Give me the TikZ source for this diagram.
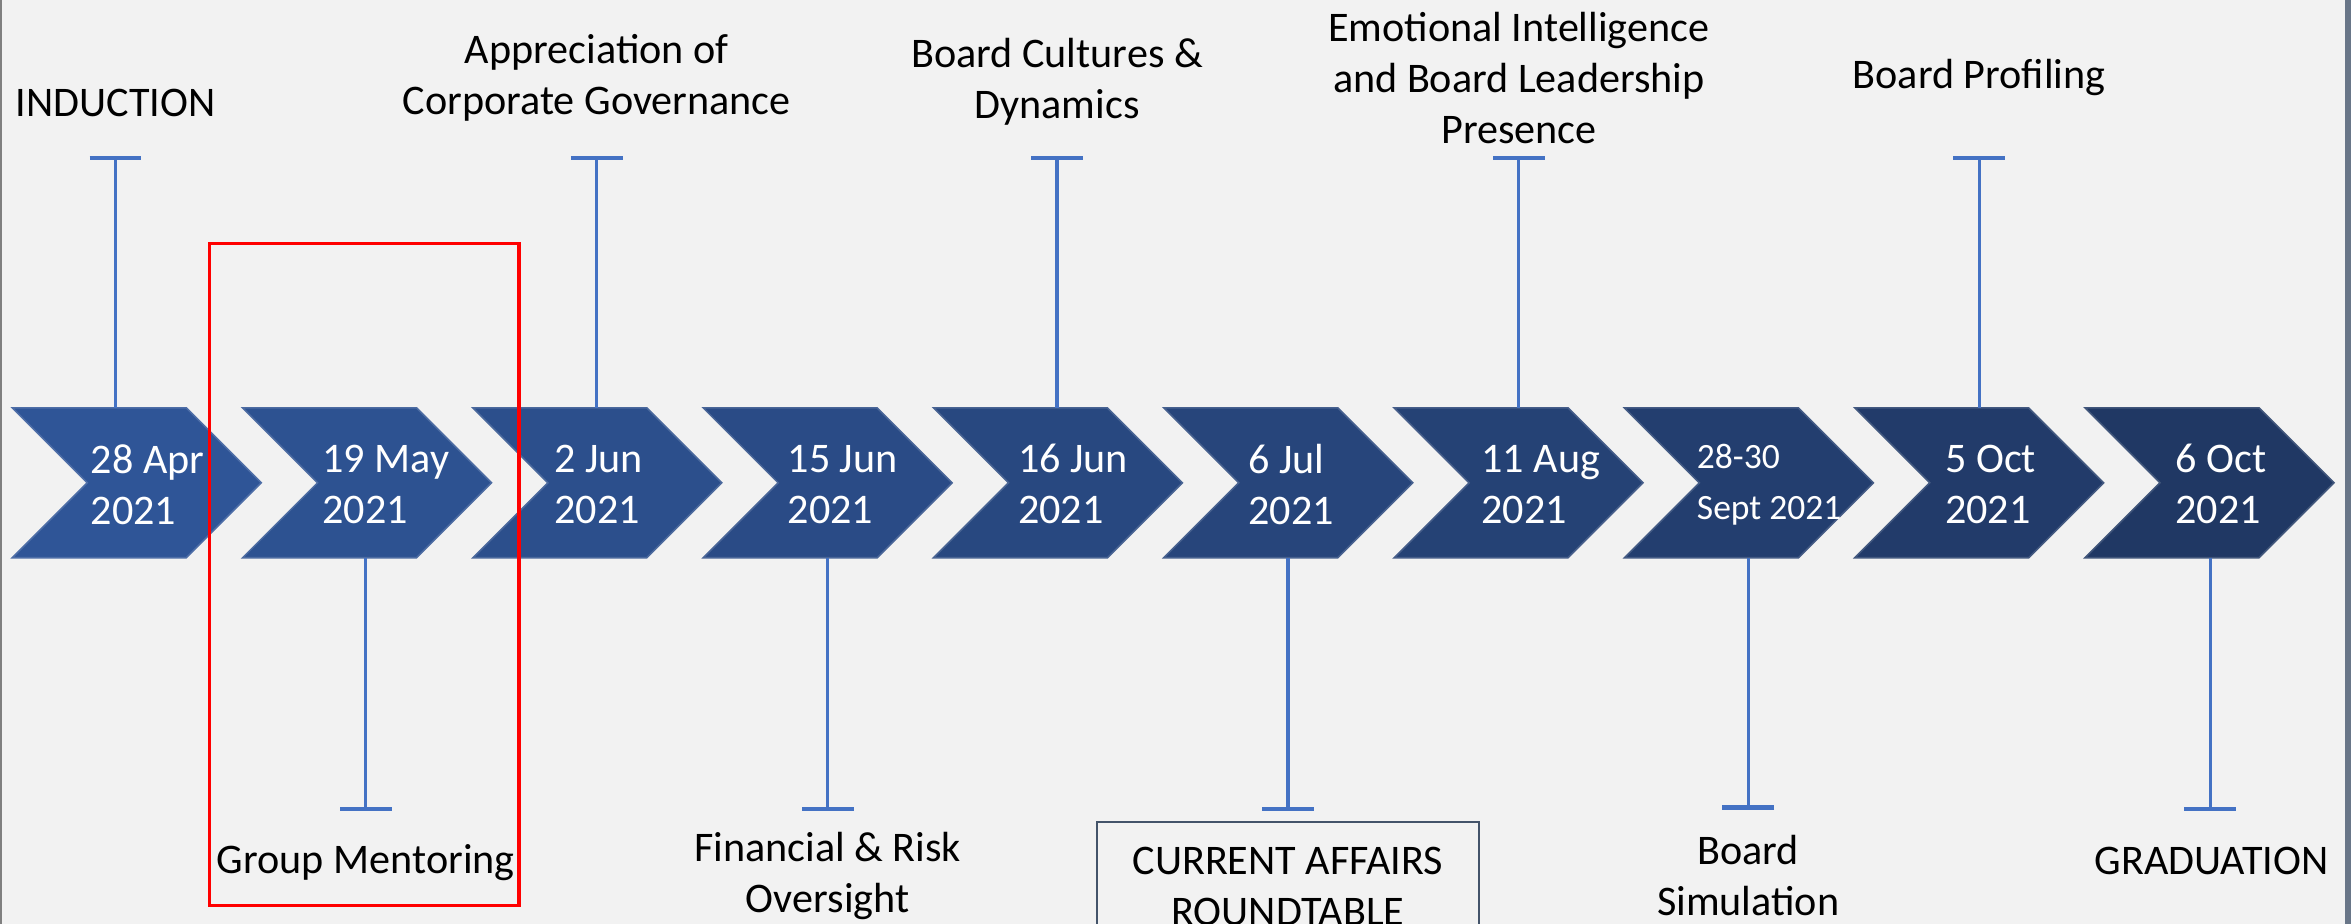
\documentclass[tikz,border=0pt]{standalone}
\usepackage{fontspec}
\setmainfont{Carlito}
\usetikzlibrary{arrows.meta}
\definecolor{slidebg}{HTML}{F2F2F2}
\definecolor{chevfirst}{HTML}{2F5597}
\definecolor{chevlast}{HTML}{203864}
\definecolor{stemblue}{HTML}{4472C4}
\definecolor{boxslate}{HTML}{44546A}
\newcommand{\smalldate}{\fontsize{13.5}{17}\selectfont}

\begin{document}
\begin{tikzpicture}[x=0.02cm,y=-0.02cm,
    stem/.style={stemblue,line width=1.2pt,-{Bar[width=6.9mm,line width=1.7pt]}},
    date/.style={text=white,align=left,anchor=west,inner sep=0pt,font=\fontsize{16}{19.4}\selectfont},
    topic/.style={align=center,inner sep=0pt,font=\fontsize{16}{19.4}\selectfont}]
  \useasboundingbox (0,0) rectangle (1568,616);
  \clip (0,0) rectangle (1568,616);
  \fill [slidebg] (0,0) rectangle (1568,616);
  \draw [gray,line width=0.8pt] (0.5,0) -- (0.5,616);
  \draw [boxslate!80,line width=2pt] (1566,0) -- (1566,616);

  \foreach \i/\dx/\dt in {1/52/{28 Apr\\2021}, 2/53/{19 May\\2021}, 3/54/{2 Jun\\2021},
      4/56/{15 Jun\\2021}, 5/56/{16 Jun\\2021}, 6/56/{6 Jul\\2021}, 7/58/{11 Aug\\2021},
      8/48/{\smalldate 28-30\\\smalldate Sept 2021}, 9/60/{5 Oct\\2021}, 10/60/{6 Oct\\2021}} {
    \pgfmathsetmacro\px{8.2+(\i-1)*153.6}
    \pgfmathsetmacro\mix{(\i-1)*100/9}
    \filldraw [fill=chevlast!\mix!chevfirst,draw=chevlast!\mix!chevfirst!85!white,line width=0.6pt]
      (\px,272) -- ++(116,0) -- ++(50,50) -- ++(-50,50) -- ++(-116,0) -- ++(50,-50) -- cycle;
    \node [date] (d\i) at ({\px+\dx},323) {\dt};
  }

  \foreach \i/\sx/\sy/\ty in {1/77/272/104, 2/244/372/541, 3/398/272/104, 4/552/372/541,
      5/705/272/104, 6/859/372/541, 7/1013/272/104, 8/1166/372/540, 9/1320/272/104, 10/1474/372/541} {
    \coordinate (foot\i) at (\sx,\sy);
    \coordinate (tee\i) at (\sx,\ty);
    \draw [stem] (foot\i) -- (tee\i);
  }

  \node [topic] (induction) at (77,69) {INDUCTION};
  \node [topic] (governance) at (398,52) {Appreciation of\\Corporate Governance};
  \node [topic] (cultures) at (705,54.5) {Board Cultures \&\\Dynamics};
  \node [topic] (emotional) at (1013,52) {Emotional Intelligence\\and Board Leadership\\Presence};
  \node [topic] (profiling) at (1320,52) {Board Profiling};

  \node [topic] (mentoring) at (244,575) {Group Mentoring};
  \node [topic] (financial) at (552,584) {Financial \& Risk\\Oversight};
  \node [topic,draw=boxslate,line width=0.8pt,minimum width=5.1cm,minimum height=1.72cm] (affairs) at (859,591) {CURRENT AFFAIRS\\ROUNDTABLE};
  \node [topic] (simulation) at (1166,584) {Board\\Simulation};
  \node [topic] (graduation) at (1475,574) {GRADUATION};

  \draw [red,line width=1.4pt] (139.8,162.5) rectangle (346,604);
\end{tikzpicture}
\end{document}
